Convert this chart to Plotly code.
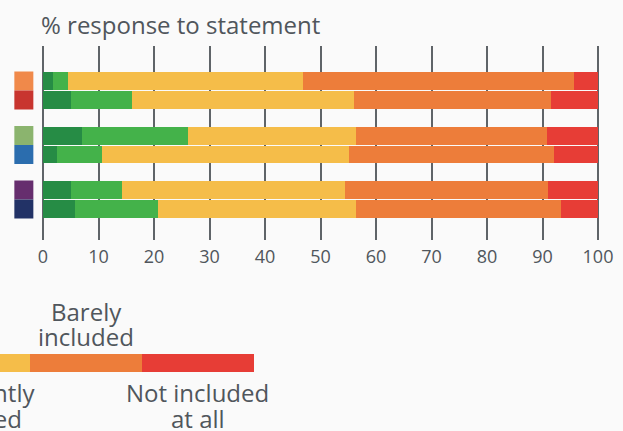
import plotly.graph_objects as go

# ── data ──
groups = [0, 0, 1, 1, 2, 2]            # row -> group index
pair_pos = [0, 1, 0, 1, 0, 1]          # first / second bar of each pair
row_colors = ["#F0894A", "#C8352F", "#8BB46E", "#2B6DAE", "#662E6E", "#223266"]

seg_names = ["Fully", "Mostly", "Sufficiently included", "Barely included", "Not included at all"]
seg_colors = ["#268C45", "#44B24A", "#F5BD49", "#ED7D3A", "#E73D36"]
seg_values = [
    [1.8, 5.0, 7.0, 2.5, 4.9, 5.8],
    [2.7, 11.0, 19.1, 8.1, 9.2, 14.9],
    [42.3, 39.9, 30.3, 44.4, 40.3, 35.7],
    [48.9, 35.6, 34.4, 37.1, 36.6, 36.8],
    [4.3, 8.5, 9.2, 7.9, 9.0, 6.8],
]

x_ticks = [0, 10, 20, 30, 40, 50, 60, 70, 80, 90, 100]
# key labels, one list of lines per colour (first two are off the page)
key_labels = [[], [], ["Sufficiently", "included"], ["Barely", "included"], ["Not included", "at all"]]

# ── layout constants (pixels) ──
W, H = 623, 431
TEXT = "#50565c"
FONT = "Open Sans, Noto Sans, sans-serif"
BAR_OFF = 0.174
BAR_W = 0.33

# x axis: value 0 sits at pixel 43, value 100 at pixel 598
X0_PX, PX_PER = 43, 5.55
X_RANGE = [-6.0, 100.4]
x_dom = [(X0_PX + X_RANGE[0] * PX_PER) / W, (X0_PX + X_RANGE[1] * PX_PER) / W]
SQUARE_X = -3.45

y_pos = [g + (BAR_OFF if p else -BAR_OFF) for g, p in zip(groups, pair_pos)]

fig = go.Figure()

for name, color, vals in zip(seg_names, seg_colors, seg_values):
    fig.add_trace(go.Bar(
        x=vals, y=y_pos, orientation="h", width=[BAR_W] * len(vals),
        marker=dict(color=color, line=dict(width=0)), name=name,
        showlegend=False, hoverinfo="skip",
    ))

# row colour squares on the left
fig.add_trace(go.Scatter(
    x=[SQUARE_X] * len(y_pos), y=y_pos, mode="markers",
    marker=dict(symbol="square", size=19, color=row_colors, line=dict(width=0)),
    showlegend=False, hoverinfo="skip",
))

# colour key bar underneath (partly off the left edge)
key_end_px, seg_px = 254, 112
n = len(seg_colors)
r0 = n - key_end_px / seg_px
fig.add_trace(go.Bar(
    x=[1] * n, y=[0] * n, base=list(range(n)), orientation="h", width=1,
    marker=dict(color=seg_colors, line=dict(width=0)),
    xaxis="x2", yaxis="y2", showlegend=False, hoverinfo="skip",
))

dom2 = [0, key_end_px / W]
above_mid = [310, 335]      # line centres above the key bar
below_mid = [391, 417]      # line centres below the key bar
for i, lines in enumerate(key_labels):
    xc = dom2[0] + (i + 0.5 - r0) / (n - r0) * (dom2[1] - dom2[0])
    above = (n - 1 - i) % 2 == 1
    mids = above_mid if above else below_mid
    for line, ym in zip(lines, mids):
        fig.add_annotation(
            x=xc, xref="paper", xanchor="center",
            y=1 - (ym + 1) / H, yref="paper", yanchor="middle",
            text=line, showarrow=False,
            font=dict(family=FONT, size=24, color=TEXT),
        )

fig.add_annotation(
    x=39 / W, y=1 - 24 / H, xref="paper", yref="paper",
    xanchor="left", yanchor="middle", showarrow=False,
    text="% response to statement",
    font=dict(family=FONT, size=24, color=TEXT),
)

fig.update_layout(
    width=W, height=H, autosize=False,
    margin=dict(l=0, r=0, t=0, b=0, pad=0, autoexpand=False),
    paper_bgcolor="#fafafa", plot_bgcolor="rgba(0,0,0,0)",
    barmode="stack", bargap=0,
    xaxis=dict(
        domain=x_dom, range=X_RANGE, automargin=False,
        tickvals=x_ticks, showgrid=True, gridcolor="#5f6468", gridwidth=1.5,
        zeroline=False, showline=False, ticks="", ticklabelstandoff=4,
        tickfont=dict(family=FONT, size=18, color=TEXT),
    ),
    yaxis=dict(
        domain=[1 - 240 / H, 1 - 46 / H], range=[2.743, -0.817], automargin=False,
        showgrid=False, zeroline=False, showticklabels=False,
    ),
    xaxis2=dict(
        domain=dom2, range=[r0, n], anchor="y2", automargin=False,
        visible=False, fixedrange=True,
    ),
    yaxis2=dict(
        domain=[1 - 372 / H, 1 - 354 / H], range=[-0.5, 0.5],
        anchor="x2", visible=False, automargin=False,
    ),
)

fig.write_html(
    "out.html",
    config={"responsive": False, "displayModeBar": False},
    post_script="document.body.style.margin='0';",
)
